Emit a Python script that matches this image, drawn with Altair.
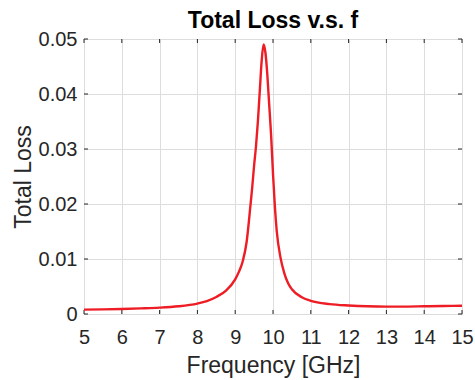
import altair as alt
import pandas as pd

# Frequency [GHz] and Total Loss
freq = [5.0, 5.5, 6.0, 6.5, 7.0, 7.5, 8.0, 8.25, 8.5, 8.75, 9.0, 9.1, 9.2, 9.3, 9.4,
        9.45, 9.5, 9.55, 9.6, 9.65, 9.7, 9.75, 9.8, 9.85, 9.9, 9.95, 10.0, 10.05,
        10.1, 10.2, 10.3, 10.4, 10.5, 10.75, 11.0, 11.5, 12.0, 12.5, 13.0, 13.5,
        14.0, 14.5, 15.0]
loss = [0.00080, 0.00085, 0.00092, 0.00102, 0.00115, 0.00140, 0.00190, 0.00235,
        0.00310, 0.00420, 0.00630, 0.00770, 0.00960, 0.01300, 0.01950, 0.02300,
        0.02700, 0.03050, 0.03500, 0.04050, 0.04600, 0.04900, 0.04750, 0.04350,
        0.03800, 0.03250, 0.02550, 0.01950, 0.01500, 0.01020, 0.00740, 0.00560,
        0.00450, 0.00310, 0.00240, 0.00180, 0.00155, 0.00140, 0.00135, 0.00135,
        0.00140, 0.00145, 0.00150]
x_ticks = [5, 6, 7, 8, 9, 10, 11, 12, 13, 14, 15]
y_ticks = [0, 0.01, 0.02, 0.03, 0.04, 0.05]
title_text = "Total Loss v.s. f"

df = pd.DataFrame({"f": freq, "loss": loss})
xt = pd.DataFrame({"f": x_ticks})
yt = pd.DataFrame({"loss": y_ticks})

W, H = 378, 275
FONT = "Liberation Sans"
DARK = "#262626"

xscale = alt.Scale(domain=[5, 15], nice=False, zero=False)
yscale = alt.Scale(domain=[0, 0.05], nice=False)

xaxis = alt.Axis(values=x_ticks, title="Frequency [GHz]", grid=True, ticks=False,
                 tickSize=0, domain=False, labelPadding=13, labelFontSize=20,
                 titleFontSize=23, titleFontWeight="normal", titleBaseline="alphabetic",
                 titleY=58, titleColor=DARK, labelColor=DARK, labelFlush=False,
                 labelOverlap=False)
yaxis = alt.Axis(values=y_ticks, title="Total Loss", grid=True, ticks=False,
                 tickSize=0, domain=False, labelPadding=7, labelFontSize=20,
                 labelExpr="datum.value == 0 ? '0' : format(datum.value, '.2f')",
                 titleFontSize=23, titleFontWeight="normal", titleBaseline="alphabetic",
                 titleAngle=270, titleX=-54, titleY=H / 2, titleAlign="center",
                 titleColor=DARK, labelColor=DARK, labelFlush=False, labelOverlap=False)

X = alt.X("f:Q", scale=xscale, axis=xaxis)
Y = alt.Y("loss:Q", scale=yscale, axis=yaxis)

line = alt.Chart(df).mark_line(color="#ee1c24", strokeWidth=2.4,
                               interpolate="monotone", clip=True).encode(x=X, y=Y)

tl = 4
bottom = alt.Chart(xt).mark_rule(color=DARK, strokeWidth=1).encode(
    x=X, y=alt.value(H), y2=alt.value(H - tl))
top = alt.Chart(xt).mark_rule(color=DARK, strokeWidth=1).encode(
    x=X, y=alt.value(0), y2=alt.value(tl))
left = alt.Chart(yt).mark_rule(color=DARK, strokeWidth=1).encode(
    y=Y, x=alt.value(0), x2=alt.value(tl))
right = alt.Chart(yt).mark_rule(color=DARK, strokeWidth=1).encode(
    y=Y, x=alt.value(W), x2=alt.value(W - tl))

title = alt.Chart(pd.DataFrame({"t": [title_text]})).mark_text(
    font=FONT, fontSize=23, fontWeight="bold", color="#000000",
    align="center", baseline="alphabetic"
).encode(text="t:N", x=alt.value(W / 2), y=alt.value(-11))

chart = alt.layer(bottom, top, left, right, line, title).properties(
    width=W, height=H,
    padding={"left": 84, "top": 39, "right": 13, "bottom": 66},
    autosize=alt.AutoSizeParams(type="none"),
).configure_view(stroke=DARK, strokeWidth=1).configure_axis(
    labelFont=FONT, titleFont=FONT, gridColor="#e4e4e4", gridWidth=1
).configure(background="white")

chart.save("out.html", embed_options={"renderer": "svg", "actions": False})
